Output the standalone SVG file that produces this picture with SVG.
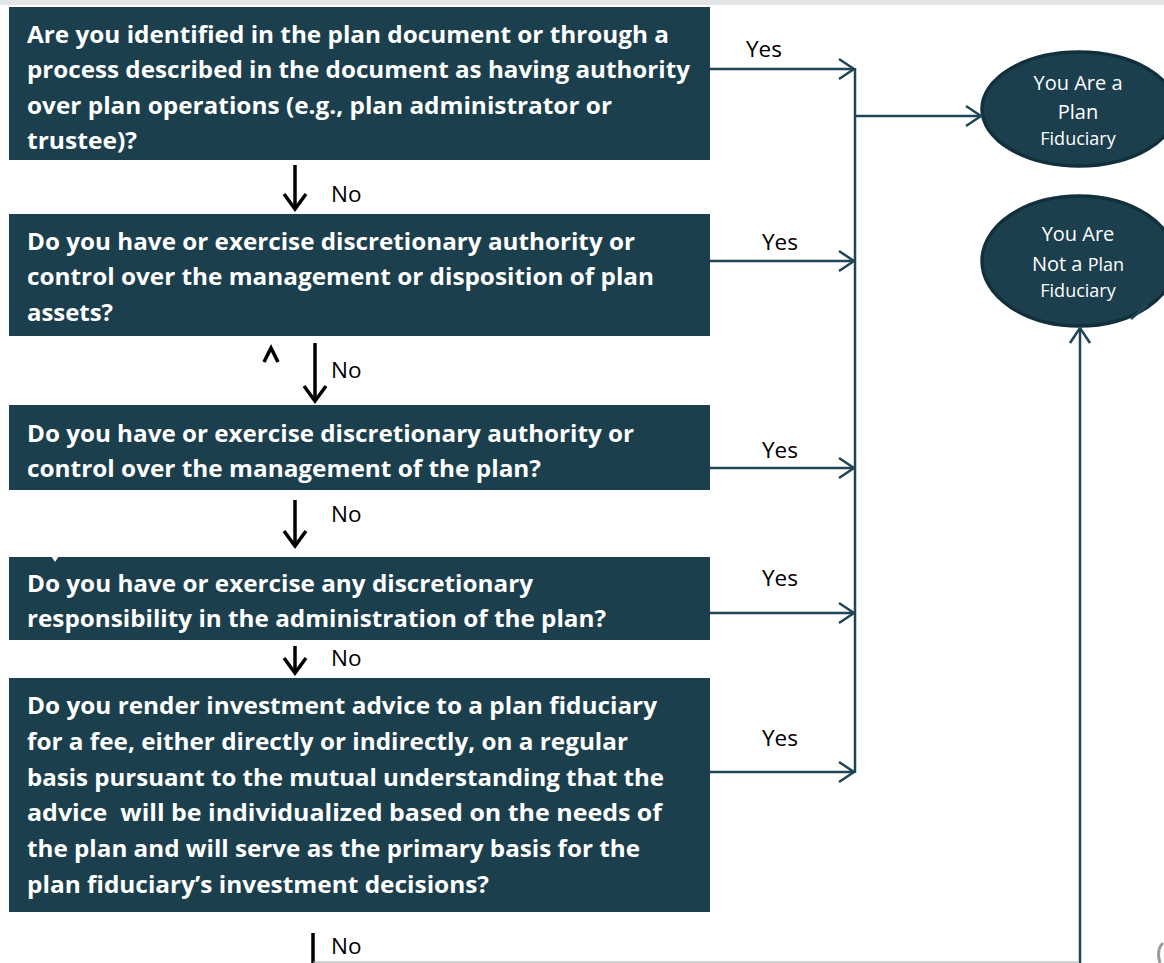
<svg xmlns="http://www.w3.org/2000/svg" width="1164" height="963" viewBox="0 0 1164 963">
<defs>
<style>
.box{fill:#1c3f4e}
.q{font-family:"Open Sans","Liberation Sans",sans-serif;font-weight:bold;font-size:23.5px;fill:#ffffff}
.lbl{font-family:"Open Sans","Liberation Sans",sans-serif;font-size:22.5px;fill:#000000}
.et{font-family:"Open Sans","Liberation Sans",sans-serif;fill:#ffffff;text-anchor:middle}
.conn{stroke:#1e4656;stroke-width:2.5;fill:none}
.blk{stroke:#000000;stroke-width:3.5;fill:none}
.ell{fill:#1c3f4e;stroke:#12303c;stroke-width:3.5}
</style>
<marker id="open" markerWidth="20" markerHeight="24" refX="17" refY="12" orient="auto" markerUnits="userSpaceOnUse">
<path d="M2,2 L17,12 L2,22" fill="none" stroke="#1e4656" stroke-width="2.5"/>
</marker>
<marker id="blkhead" markerWidth="26" markerHeight="22" refX="13" refY="19" orient="0" markerUnits="userSpaceOnUse">
<path d="M2,4 L13,19 L24,4" fill="none" stroke="#000" stroke-width="3.5"/>
</marker>
</defs>
<rect x="0" y="0" width="1164" height="963" fill="#ffffff"/>
<rect x="0" y="0" width="1164" height="5" fill="#e4e5e7"/>

<g id="q1">
<rect class="box" x="9" y="7" width="701" height="153"/>
<text class="q" x="27" y="42.5" textLength="642" lengthAdjust="spacingAndGlyphs">Are you identified in the plan document or through a</text>
<text class="q" x="27" y="78" textLength="663" lengthAdjust="spacingAndGlyphs">process described in the document as having authority</text>
<text class="q" x="27" y="113.5" textLength="585" lengthAdjust="spacingAndGlyphs">over plan operations (e.g., plan administrator or</text>
<text class="q" x="27" y="149" textLength="110" lengthAdjust="spacingAndGlyphs">trustee)?</text>
</g>
<g id="q2">
<rect class="box" x="9" y="214" width="701" height="122"/>
<text class="q" x="27" y="249.5" textLength="608" lengthAdjust="spacingAndGlyphs">Do you have or exercise discretionary authority or</text>
<text class="q" x="27" y="285" textLength="627" lengthAdjust="spacingAndGlyphs">control over the management or disposition of plan</text>
<text class="q" x="27" y="320.5" textLength="86" lengthAdjust="spacingAndGlyphs">assets?</text>
</g>
<g id="q3">
<rect class="box" x="9" y="405" width="701" height="85"/>
<text class="q" x="27" y="441.5" textLength="607" lengthAdjust="spacingAndGlyphs">Do you have or exercise discretionary authority or</text>
<text class="q" x="27" y="477" textLength="514" lengthAdjust="spacingAndGlyphs">control over the management of the plan?</text>
</g>
<g id="q4">
<rect class="box" x="9" y="557" width="701" height="83"/>
<path d="M51,556 L59,556 L55,562 Z" fill="#ffffff"/>
<text class="q" x="27" y="591.5" textLength="506" lengthAdjust="spacingAndGlyphs">Do you have or exercise any discretionary</text>
<text class="q" x="27" y="627" textLength="579" lengthAdjust="spacingAndGlyphs">responsibility in the administration of the plan?</text>
</g>
<g id="q5">
<rect class="box" x="9" y="678" width="701" height="234"/>
<text class="q" x="27" y="713.5" textLength="630" lengthAdjust="spacingAndGlyphs">Do you render investment advice to a plan fiduciary</text>
<text class="q" x="27" y="749.5" textLength="601" lengthAdjust="spacingAndGlyphs">for a fee, either directly or indirectly, on a regular</text>
<text class="q" x="27" y="785.5" textLength="637" lengthAdjust="spacingAndGlyphs">basis pursuant to the mutual understanding that the</text>
<text class="q" x="27" y="821" textLength="635" lengthAdjust="spacingAndGlyphs" xml:space="preserve">advice  will be individualized based on the needs of</text>
<text class="q" x="27" y="856.5" textLength="613" lengthAdjust="spacingAndGlyphs">the plan and will serve as the primary basis for the</text>
<text class="q" x="27" y="892.5" textLength="462" lengthAdjust="spacingAndGlyphs">plan fiduciary’s investment decisions?</text>
</g>

<g id="r1">
<ellipse class="ell" cx="1079" cy="109" rx="97" ry="57"/>
<text class="et" x="1078" y="90" font-size="20">You Are a</text>
<text class="et" x="1078" y="119" font-size="20">Plan</text>
<text class="et" x="1078" y="145" font-size="18">Fiduciary</text>
</g>
<g id="r2">
<ellipse class="ell" cx="1079" cy="261" rx="97" ry="65"/>
<text class="et" x="1078" y="241" font-size="20">You Are</text>
<text class="et" x="1078" y="271"><tspan font-size="20">Not a </tspan><tspan font-size="18">Plan</tspan></text>
<text class="et" x="1078" y="297" font-size="18">Fiduciary</text>
</g>

<g id="connectors">
<line class="blk" x1="295" y1="165" x2="295" y2="209" marker-end="url(#blkhead)"/>
<path class="blk" d="M264,362 L271,348 L278,362"/>
<line class="blk" x1="315" y1="343" x2="315" y2="401" marker-end="url(#blkhead)"/>
<line class="blk" x1="295" y1="500" x2="295" y2="546" marker-end="url(#blkhead)"/>
<line class="blk" x1="295" y1="646" x2="295" y2="673" marker-end="url(#blkhead)"/>
<line class="blk" x1="313" y1="933" x2="313" y2="963" stroke-width="4"/>
<line x1="313" y1="962" x2="1078" y2="962" stroke="#a8a8a8" stroke-width="1.2"/>

<line class="conn" x1="710" y1="69" x2="854" y2="69" marker-end="url(#open)"/>
<line class="conn" x1="710" y1="261" x2="854" y2="261" marker-end="url(#open)"/>
<line class="conn" x1="710" y1="468" x2="854" y2="468" marker-end="url(#open)"/>
<line class="conn" x1="710" y1="613" x2="854" y2="613" marker-end="url(#open)"/>
<line class="conn" x1="710" y1="772" x2="854" y2="772" marker-end="url(#open)"/>
<line class="conn" x1="855" y1="68" x2="855" y2="773"/>
<line class="conn" x1="855" y1="116" x2="981" y2="116" marker-end="url(#open)"/>
<line class="conn" x1="1080" y1="963" x2="1080" y2="328" marker-end="url(#open)"/>
<line class="conn" x1="1131" y1="319" x2="1147" y2="305"/>

<text class="lbl" x="746" y="57">Yes</text>
<text class="lbl" x="762" y="250">Yes</text>
<text class="lbl" x="762" y="458">Yes</text>
<text class="lbl" x="762" y="586">Yes</text>
<text class="lbl" x="762" y="746">Yes</text>
<text class="lbl" x="331" y="202">No</text>
<text class="lbl" x="331" y="378">No</text>
<text class="lbl" x="331" y="522">No</text>
<text class="lbl" x="331" y="666">No</text>
<text class="lbl" x="331" y="954">No</text>
</g>
<path d="M1163,943 Q1156,950 1160,963" fill="none" stroke="#9a9a9a" stroke-width="3"/>
</svg>
